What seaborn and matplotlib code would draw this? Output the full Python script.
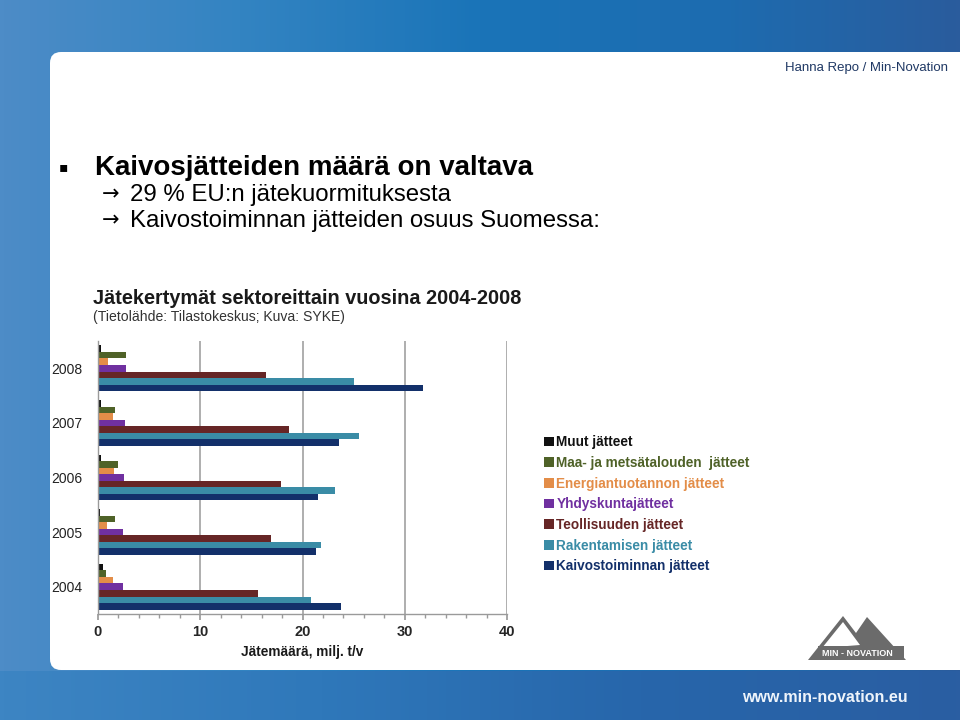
import numpy as np
import pandas as pd
import matplotlib
import matplotlib.pyplot as plt
plt.switch_backend('Agg')
import seaborn as sns
from matplotlib.colors import LinearSegmentedColormap
from matplotlib.patches import FancyBboxPatch, Polygon, Patch, Rectangle

# Chart data (milj. t/v)
years = ["2008", "2007", "2006", "2005", "2004"]
sectors = ["Muut jätteet", "Maa- ja metsätalouden  jätteet", "Energiantuotannon jätteet",
           "Yhdyskuntajätteet", "Teollisuuden jätteet", "Rakentamisen jätteet",
           "Kaivostoiminnan jätteet"]
muut = [0.25, 0.25, 0.25, 0.2, 0.45]
maa = [2.7, 1.7, 2.0, 1.7, 0.8]
energia = [0.95, 1.5, 1.6, 0.85, 1.5]
yhdys = [2.75, 2.6, 2.5, 2.4, 2.4]
teoll = [16.4, 18.7, 17.9, 16.9, 15.6]
raken = [25.0, 25.5, 23.2, 21.8, 20.8]
kaivos = [31.8, 23.6, 21.5, 21.3, 23.8]
colors = ["#111111", "#4f6228", "#e38d48", "#7030a0", "#662626", "#3a8ca6", "#13306a"]

values = [muut, maa, energia, yhdys, teoll, raken, kaivos]
rows = []
for s, vals in zip(sectors, values):
    for y, v in zip(years, vals):
        rows.append({"Vuosi": y, "Sektori": s, "Määrä": v})
df = pd.DataFrame(rows)

sns.set_theme(style="white")
plt.rcParams['font.family'] = ['Liberation Sans', 'DejaVu Sans']

fig = plt.figure(figsize=(9.6, 7.2), dpi=100)

# slide background
bg = fig.add_axes([0, 0, 1, 1])
bg.set_xlim(0, 960)
bg.set_ylim(720, 0)
bg.axis('off')
cmap = LinearSegmentedColormap.from_list("slide", ["#4d8cc7", "#3384c2", "#1a74b8", "#1d6cb0", "#2a5c9d"])
grad = np.tile(np.linspace(0, 1, 256), (2, 1))
bg.imshow(grad, cmap=cmap, extent=(0, 960, 720, 0), aspect='auto', zorder=0)
foot = LinearSegmentedColormap.from_list("foot", ["#3d85c3", "#2f78ba", "#2766ab", "#2a5ea2"])
bg.imshow(grad, cmap=foot, extent=(0, 960, 720, 671), aspect='auto', zorder=0.5)
bg.add_patch(FancyBboxPatch((50, 52), 940, 618, boxstyle="round,pad=0,rounding_size=11",
                            facecolor="white", edgecolor="none", zorder=1))

bg.text(948, 68, "Hanna Repo / Min-Novation", ha='right', va='center', fontsize=9.5,
        color="#1f3864", zorder=3)
bg.text(59, 167, "▪", ha='left', va='center', fontsize=10, color="black",
        family=['DejaVu Sans'], zorder=3)
bg.text(95, 168, "Kaivosjätteiden määrä on valtava", ha='left', va='center', fontsize=20,
        fontweight='bold', color="black", zorder=3)
for yy, line in [(195, "29 % EU:n jätekuormituksesta"),
                 (221, "Kaivostoiminnan jätteiden osuus Suomessa:")]:
    bg.text(102, yy - 1, "→", ha='left', va='center', fontsize=15, color="black",
            family=['DejaVu Sans'], zorder=3)
    bg.text(130, yy, line, ha='left', va='center', fontsize=17.3, color="black", zorder=3)

bg.text(93, 299, "Jätekertymät sektoreittain vuosina 2004-2008", ha='left', va='center',
        fontsize=14.3, fontweight='bold', color="#1a1a1a", zorder=3)
bg.text(93, 317, "(Tietolähde: Tilastokeskus; Kuva: SYKE)", ha='left', va='center',
        fontsize=10.1, color="#333333", zorder=3)

# logo
bg.add_patch(Polygon([(808, 660), (843, 616), (856, 633), (867, 617), (906, 660)],
                     closed=True, facecolor="#6b6b6b", edgecolor="none", zorder=2))
bg.add_patch(Polygon([(822, 648), (843, 622), (860, 645)], closed=True,
                     facecolor="white", edgecolor="none", zorder=2.2))
bg.add_patch(Rectangle((818, 646), 86, 13, facecolor="#6b6b6b", edgecolor="none", zorder=2.4))
bg.text(857, 653, "MIN - NOVATION", ha='center', va='center', fontsize=6.5,
        fontweight='bold', color="white", zorder=3)

bg.text(742, 697, "www.min-novation.eu", ha='left', va='center', fontsize=11.5,
        fontweight='bold', color="#eef4fb", zorder=3)

# chart
ax = fig.add_axes([98 / 960, 1 - 614 / 720, 409 / 960, 273 / 720])
ax.set_facecolor("white")
sns.barplot(data=df, y="Vuosi", x="Määrä", hue="Sektori", order=years, hue_order=sectors,
            palette=colors, orient='h', width=0.84, gap=0, legend=False, ax=ax,
            saturation=1, linewidth=0)
ax.set_xlim(0, 40)
ax.set_xticks([0, 10, 20, 30, 40])
ax.set_xticks(np.arange(0, 41, 2), minor=True)
ax.grid(axis='x', color="#a8a8a8", linewidth=1.3)
ax.set_axisbelow(True)
for sp in ["top", "right"]:
    ax.spines[sp].set_visible(False)
for sp in ["left", "bottom"]:
    ax.spines[sp].set_color("#9a9a9a")
    ax.spines[sp].set_linewidth(1.0)
ax.tick_params(axis='x', which='both', bottom=True, direction='out', color="#9a9a9a")
ax.tick_params(axis='x', which='major', length=4, labelsize=10.5, pad=4)
ax.tick_params(axis='x', which='minor', length=3)
ax.tick_params(axis='y', length=0, labelsize=10, pad=11, labelcolor="#222222")
for lab in ax.get_xticklabels():
    lab.set_fontweight('bold')
ax.set_ylabel("")
ax.set_xlabel("Jätemäärä, milj. t/v", fontsize=9.8, fontweight='bold', color="#1a1a1a", labelpad=4)

handles = [Patch(facecolor=c, edgecolor='none') for c in colors]
leg = ax.legend(handles, sectors, loc='upper left', bbox_to_anchor=(532 / 960, 1 - 423 / 720),
                bbox_transform=fig.transFigure, frameon=False, handlelength=0.7,
                handleheight=0.7, handletextpad=0.2, labelspacing=0.49,
                prop={'weight': 'bold', 'size': 9.8}, labelcolor=colors)

fig.savefig("out.png", dpi=100)
